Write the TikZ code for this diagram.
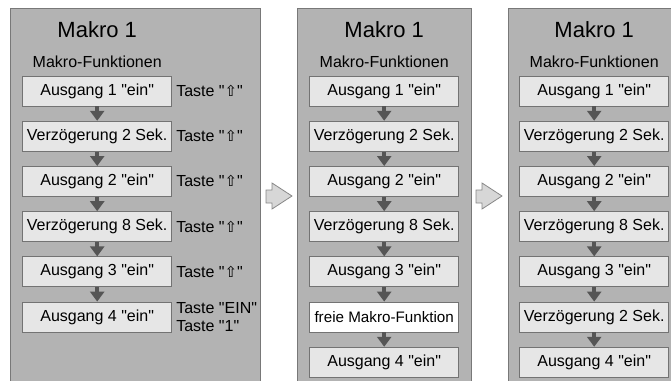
\documentclass[tikz,border=0pt]{standalone}
\usepackage{fontspec}
\setmainfont{Liberation Sans}[Ligatures=TeXOff]
\newfontfamily\symfont{DejaVu Sans}
\usetikzlibrary{positioning,arrows.meta}

\definecolor{panelfill}{RGB}{179,179,179}
\definecolor{panelline}{RGB}{120,120,120}
\definecolor{boxfill}{RGB}{230,230,230}
\definecolor{boxline}{RGB}{115,115,115}
\definecolor{flowgray}{RGB}{85,85,85}
\definecolor{arrowfill}{RGB}{215,215,215}
\definecolor{arrowline}{RGB}{135,135,135}

\newcommand{\upkey}{{\symfont\fontsize{15}{16}\selectfont ⇧}}

\begin{document}
\begin{tikzpicture}[x=1pt,y=-1pt]
            \tikzset{
	panel/.style={draw=panelline,fill=panelfill,line width=.8pt,anchor=north west,
		minimum width=174pt,minimum height=390pt,inner sep=0pt},
	fn/.style={draw=boxline,fill=boxfill,line width=.8pt,minimum width=149pt,
		minimum height=30pt,inner sep=0pt,font=\fontsize{16}{18}\selectfont},
	free/.style={fn,fill=white,font=\fontsize{15.2}{18}\selectfont},
	title/.style={inner sep=0pt,font=\fontsize{22}{24}\selectfont},
	sub/.style={inner sep=0pt,font=\fontsize{16}{18}\selectfont},
	key/.style={inner sep=0pt,align=left,font=\fontsize{16}{18}\selectfont},
	flow/.style={draw=flowgray,line width=4pt,-{Triangle[width=14pt,length=10pt]}},
	block/.style={draw=arrowline,fill=arrowfill,line width=.8pt},
	node distance=14.4pt
}
\useasboundingbox (0,0) rectangle (671,380);
\clip (0,0) rectangle (671,380);

\node[panel,minimum width=250pt] (p1) at (10,8) {};
\node[panel] (p2) at (297,8) {};
\node[panel] (p3) at (508,8) {};

\foreach \c/\x in {a/97.2,b/384.2,c/594.2}{
	\node[fn] (\c1) at (\x,91) {Ausgang 1 "ein"};
	\node[fn,below=of \c1] (\c2) {Verzögerung 2 Sek.};
	\node[fn,below=of \c2] (\c3) {Ausgang 2 "ein"};
	\node[fn,below=of \c3] (\c4) {Verzögerung 8 Sek.};
	\node[fn,below=of \c4] (\c5) {Ausgang 3 "ein"};
	\node[sub,above=7.7pt of \c1] (sub\c) {Makro-Funktionen};
	\node[title,above=18.3pt of sub\c] (ttl\c) {Makro 1};
}
\node[fn,below=of a5] (a6) {Ausgang 4 "ein"};
\node[free,below=of b5] (b6) {freie Makro-Funktion};
\node[fn,below=of b6] (b7) {Ausgang 4 "ein"};
\node[fn,below=of c5] (c6) {Verzögerung 2 Sek.};
\node[fn,below=of c6] (c7) {Ausgang 4 "ein"};

\foreach \i in {1,...,5}
	\node[key,right=4pt of a\i] (k\i) {Taste "\upkey"};
\node[key,right=4pt of a6] (k6) {Taste "EIN"\\Taste "1"};

\foreach \c in {a,b,c}
	\foreach \i/\j in {1/2,2/3,3/4,4/5,5/6}
		\draw[flow] (\c\i) -- (\c\j);
\draw[flow] (b6) -- (b7);
\draw[flow] (c6) -- (c7);

\foreach \x in {266,476}
	\draw[block] (\x,190) -- ++(6,0) -- ++(0,-7) -- ++(20,13) -- ++(-20,13)
		-- ++(0,-6) -- ++(-6,0) -- cycle;
        \end{tikzpicture}
\end{document}
